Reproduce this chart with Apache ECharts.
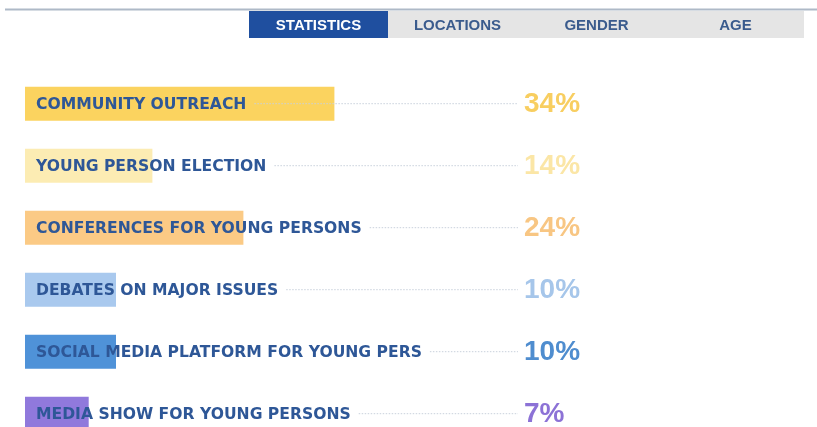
<!DOCTYPE html>
<html><head><meta charset="utf-8">
<script src="https://cdn.jsdelivr.net/npm/echarts@6/dist/echarts.min.js"></script>
<style>html,body{margin:0;padding:0;background:#fff}#c{width:817px;height:427px}</style>
</head><body><div id="c"></div>
<script>
const categories = ['COMMUNITY OUTREACH','YOUNG PERSON ELECTION','CONFERENCES FOR YOUNG PERSONS','DEBATES ON MAJOR ISSUES','SOCIAL MEDIA PLATFORM FOR YOUNG PERS','MEDIA SHOW FOR YOUNG PERSONS'];
const values = [34, 14, 24, 10, 10, 7];
const valueLabels = ['34%','14%','24%','10%','10%','7%'];
const barColors = ['#fbd35f','#fcecb3','#fbca85','#a9c9ee','#4f92d8','#9079dc'];
const labelColors = ['#f8ce60','#fbe6a6','#f8c683','#a6c6ea','#4f8dcf','#8c72d6'];
const tabs = ['STATISTICS','LOCATIONS','GENDER','AGE'];

const catFont = 'bold 15.6px "DejaVu Sans"';
const mctx = document.createElement('canvas').getContext('2d');
function measure(t){ mctx.font = catFont; return mctx.measureText(t).width; }

const chart = echarts.init(document.getElementById('c'), null, {renderer:'canvas'});

const tabX0 = 249, tabW = 139, tabY = 11, tabH = 27;
const graphic = [
  {type:'rect', shape:{x:5, y:8.5, width:812, height:2}, style:{fill:'#aeb9c7'}},
  {type:'rect', shape:{x:tabX0, y:tabY, width:tabW*tabs.length - 1, height:tabH}, style:{fill:'#e5e5e5'}}
];
tabs.forEach((t,i)=>{
  if(i===0) graphic.push({type:'rect', shape:{x:tabX0, y:tabY, width:tabW, height:tabH}, style:{fill:'#1f4f9f'}});
  graphic.push({type:'text', style:{text:t, x:tabX0 + tabW*i + tabW/2, y:tabY + tabH/2 + 1, align:'center', verticalAlign:'middle',
    fill: i===0 ? '#ffffff' : '#3a5b8d', font:'bold 15px "Liberation Sans"'}});
});

chart.setOption({
  animation:false,
  graphic: graphic,
  grid:{left:25, right:64, top:72.7, height:372, containLabel:false, outerBoundsMode:'none'},
  xAxis:{type:'value', min:0, max:80, show:false},
  yAxis:{type:'category', data:categories, inverse:true, show:false},
  series:[
    {type:'bar', barWidth:34, data: values.map((v,i)=>({value:v, itemStyle:{color:barColors[i]}})), z:1},
    {type:'custom', z:5, data: values.map((v,i)=>[v,i]), encode:{x:0, y:1},
      renderItem:function(params, api){
        const i = params.dataIndex;
        const p = api.coord([0, i]);
        const y = p[1], x0 = p[0];
        const tx = x0 + 11;
        const tw = measure(categories[i]);
        return {type:'group', children:[
          {type:'line', shape:{x1:tx+tw+8, y1:y, x2:518, y2:y}, style:{stroke:'#c9d1dc', lineWidth:1, lineDash:[1.5,1.5]}},
          {type:'text', style:{text:categories[i], x:tx, y:y+1, verticalAlign:'middle', fill:'#2e5797', font:catFont}},
          {type:'text', style:{text:valueLabels[i], x:524, y:y+1, verticalAlign:'middle', fill:labelColors[i], font:'bold 28px "Liberation Sans"'}}
        ]};
      }
    }
  ]
});
</script>
</body></html>
